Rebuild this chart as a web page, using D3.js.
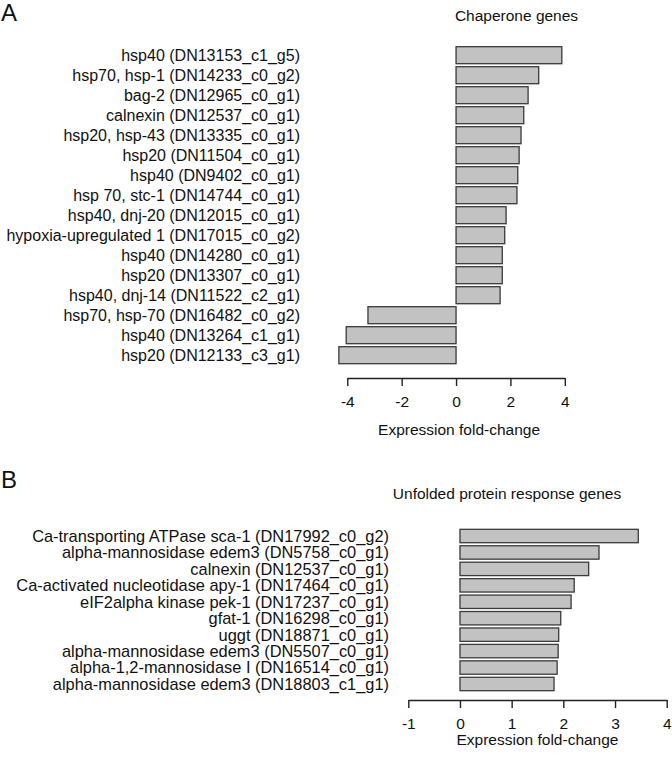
<!DOCTYPE html>
<html>
<head>
<meta charset="utf-8">
<script src="https://cdn.jsdelivr.net/npm/d3@7"></script>
<style>
  html, body { margin: 0; padding: 0; background: #fff; }
  svg { display: block; }
  text { font-family: "Liberation Sans", Arial, Helvetica, sans-serif; fill: #111; }
</style>
</head>
<body>
<script>
// ---------- DATA ----------
const catsA = [
  "hsp40 (DN13153_c1_g5)",
  "hsp70, hsp-1 (DN14233_c0_g2)",
  "bag-2 (DN12965_c0_g1)",
  "calnexin (DN12537_c0_g1)",
  "hsp20, hsp-43 (DN13335_c0_g1)",
  "hsp20 (DN11504_c0_g1)",
  "hsp40 (DN9402_c0_g1)",
  "hsp 70, stc-1 (DN14744_c0_g1)",
  "hsp40, dnj-20 (DN12015_c0_g1)",
  "hypoxia-upregulated 1 (DN17015_c0_g2)",
  "hsp40 (DN14280_c0_g1)",
  "hsp20 (DN13307_c0_g1)",
  "hsp40, dnj-14 (DN11522_c2_g1)",
  "hsp70, hsp-70 (DN16482_c0_g2)",
  "hsp40 (DN13264_c1_g1)",
  "hsp20 (DN12133_c3_g1)"
];
const valsA = [3.89, 3.04, 2.65, 2.49, 2.39, 2.32, 2.27, 2.24, 1.84, 1.79, 1.70, 1.70, 1.62, -3.24, -4.04, -4.31];
const ticksA = [-4, -2, 0, 2, 4];
const titleA = "Chaperone genes";

const catsB = [
  "Ca-transporting ATPase sca-1 (DN17992_c0_g2)",
  "alpha-mannosidase edem3 (DN5758_c0_g1)",
  "calnexin (DN12537_c0_g1)",
  "Ca-activated nucleotidase apy-1 (DN17464_c0_g1)",
  "eIF2alpha kinase pek-1 (DN17237_c0_g1)",
  "gfat-1 (DN16298_c0_g1)",
  "uggt (DN18871_c0_g1)",
  "alpha-mannosidase edem3 (DN5507_c0_g1)",
  "alpha-1,2-mannosidase I (DN16514_c0_g1)",
  "alpha-mannosidase edem3 (DN18803_c1_g1)"
];
const valsB = [3.45, 2.69, 2.49, 2.21, 2.15, 1.95, 1.91, 1.90, 1.88, 1.82];
const ticksB = [-1, 0, 1, 2, 3, 4];
const titleB = "Unfolded protein response genes";

const xTitle = "Expression fold-change";

// ---------- DRAW ----------
const W = 672, H = 759;
const svg = d3.select("body").append("svg").attr("width", W).attr("height", H);

function panel(cfg) {
  const g = svg.append("g");
  const x = d3.scaleLinear().domain(cfg.domain).range(cfg.xRange);
  const y = d3.scaleBand().domain(cfg.cats).range(cfg.yRange)
    .paddingInner(cfg.pad).paddingOuter(cfg.pad / 2);

  g.selectAll("rect.bar").data(cfg.vals).join("rect")
    .attr("class", "bar")
    .attr("x", d => x(Math.min(0, d)))
    .attr("width", d => Math.abs(x(d) - x(0)))
    .attr("y", (d, i) => y(cfg.cats[i]))
    .attr("height", y.bandwidth())
    .attr("fill", "#c2c2c2")
    .attr("stroke", "#3a3a3a")
    .attr("stroke-width", 1.3);

  g.selectAll("text.lab").data(cfg.cats).join("text")
    .attr("class", "lab")
    .attr("x", cfg.labelRight)
    .attr("y", d => y(d) + y.bandwidth() / 2)
    .attr("dy", "0.36em")
    .attr("text-anchor", "end")
    .style("font-size", cfg.labelSize + "px")
    .text(d => d);

  const axis = d3.axisBottom(x).tickValues(cfg.ticks).tickSize(8).tickSizeOuter(0)
    .tickPadding(10).tickFormat(d3.format("d"));
  const ax = g.append("g").attr("transform", `translate(0,${cfg.axisY})`).call(axis);
  ax.select(".domain").attr("stroke", "#222").attr("stroke-width", 1.4);
  ax.selectAll(".tick line").attr("stroke", "#222").attr("stroke-width", 1.4);
  ax.selectAll(".tick text").style("font-size", "15.5px").attr("fill", "#111")
    .style("font-family", "'Liberation Sans', Arial, sans-serif")
    .text(d => d < 0 ? "-" + Math.abs(d) : String(d));

  g.append("text")
    .attr("x", (x.range()[0] + x.range()[1]) / 2 + cfg.xTitleShift)
    .attr("y", cfg.xTitleY)
    .attr("text-anchor", "middle")
    .style("font-size", "15.5px")
    .text(xTitle);

  g.append("text")
    .attr("x", cfg.titleX)
    .attr("y", cfg.titleY)
    .attr("text-anchor", "middle")
    .style("font-size", "15.5px")
    .text(cfg.title);

  g.append("text")
    .attr("x", 1)
    .attr("y", cfg.letterY)
    .style("font-size", "24px")
    .text(cfg.letter);
}

panel({
  cats: catsA, vals: valsA, ticks: ticksA, title: titleA, letter: "A",
  domain: [-4, 4], xRange: [347.3, 564.8],
  yRange: [45.2, 365.2], pad: 0.15, labelSize: 16,
  labelRight: 300, axisY: 378, xTitleY: 435, xTitleShift: 3,
  titleX: 516.5, titleY: 21, letterY: 21
});

panel({
  cats: catsB, vals: valsB, ticks: ticksB, title: titleB, letter: "B",
  domain: [-1, 4], xRange: [408.3, 666.7],
  yRange: [527.8, 692.2], pad: 0.185, labelSize: 16.4,
  labelRight: 389, axisY: 700, xTitleY: 745, xTitleShift: 0,
  titleX: 507, titleY: 499, letterY: 488
});
</script>
</body>
</html>
